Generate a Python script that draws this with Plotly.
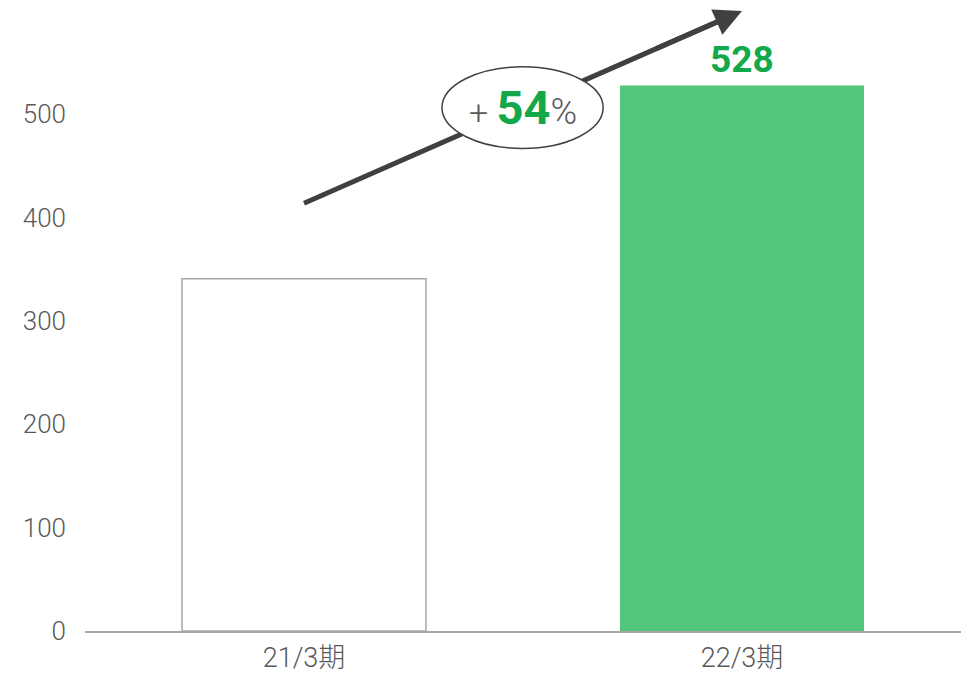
import plotly.graph_objects as go

categories = ["21/3期", "22/3期"]
values = [341, 528]
tick_vals = [0, 100, 200, 300, 400, 500]
growth_label = "54"
value_label = "528"

green_text = "#13a84a"
bar_green = "#52c67a"
gray_text = "#595959"
axis_gray = "#a6a6a6"
dark = "#404040"
FONT = "Roboto, Noto Sans CJK JP"

fig = go.Figure()
fig.add_trace(go.Bar(
    x=categories, y=values, width=0.557,
    marker=dict(color=["white", bar_green],
                line=dict(color=[axis_gray, bar_green], width=[1.5, 0])),
    hoverinfo="skip",
))

# arrow line (drawn as shape so the ellipse can cover it)
x0, y0, x1, y1 = 0.0, 414, 1.0, 600
fig.add_shape(type="line", xref="x", yref="y", x0=x0, y0=y0, x1=x1 - 0.02, y1=y1 - 0.02 * (y1 - y0) / (x1 - x0),
              line=dict(color=dark, width=5))
fig.add_shape(type="circle", xref="x", yref="y", x0=0.315, x1=0.683, y0=467, y1=546,
              fillcolor="white", line=dict(color=dark, width=1.5), layer="above")
xm = 0.8
fig.add_annotation(x=x1, y=y1, ax=xm, ay=y0 + (y1 - y0) * (xm - x0) / (x1 - x0),
                   xref="x", yref="y", axref="x", ayref="y", text="", showarrow=True,
                   arrowhead=2, arrowsize=1.1, arrowwidth=5, arrowcolor=dark)

fig.add_annotation(x=0.5, y=507, xref="x", yref="y", showarrow=False,
                   text=(f"<span style='font-size:34px;color:{gray_text};font-weight:300'>+ </span>"
                         f"<b><span style='font-size:47px;color:{green_text}'>{growth_label}</span></b>"
                         f"<span style='font-size:36px;color:{gray_text};font-weight:300'>%</span>"),
                   font=dict(family=FONT))

fig.add_annotation(x=1, y=values[1], xref="x", yref="y", showarrow=False, yanchor="bottom",
                   yshift=2, text=f"<b>{value_label}</b>",
                   font=dict(family=FONT, size=37, color=green_text))

fig.update_layout(
    width=961, height=666,
    margin=dict(l=77, r=8, t=3, b=43),
    paper_bgcolor="white", plot_bgcolor="white",
    showlegend=False,
    font=dict(family=FONT, color=gray_text, size=26, weight=300),
    xaxis=dict(showline=True, linecolor=axis_gray, linewidth=2, ticks="", showgrid=False,
               automargin=False, ticklabelstandoff=2,
               tickfont=dict(size=27, color=gray_text, weight=300, family=FONT), range=[-0.5, 1.5]),
    yaxis=dict(range=[0, 600], tickvals=tick_vals, showgrid=False, zeroline=False, automargin=False,
               showline=False, ticks="", tickfont=dict(size=26, color=gray_text, weight=300, family=FONT),
               ticklabelstandoff=18),
)

fig.write_html("out.html")
